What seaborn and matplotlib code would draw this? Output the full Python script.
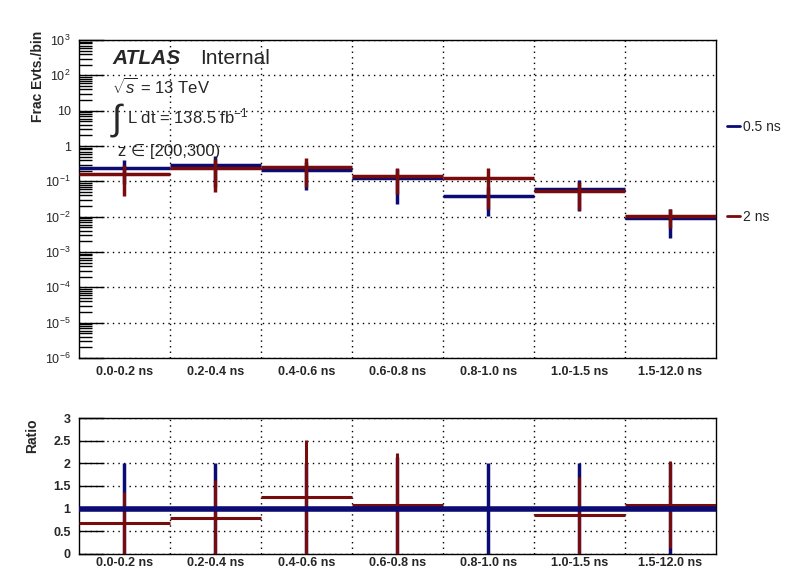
import numpy as np
import matplotlib
matplotlib.use("Agg")
import matplotlib.pyplot as plt
from matplotlib.lines import Line2D
from matplotlib.ticker import FixedLocator, LogLocator, FuncFormatter
import seaborn as sns

# Bin labels and values
bins = ["0.0-0.2 ns", "0.2-0.4 ns", "0.4-0.6 ns", "0.6-0.8 ns",
        "0.8-1.0 ns", "1.0-1.5 ns", "1.5-12.0 ns"]
frac_05 = [0.243, 0.296, 0.209, 0.124, 0.0392, 0.0618, 0.0093]
err_05 = [0.159, 0.225, 0.152, 0.101, 0.0286, 0.047, 0.0068]
frac_2 = [0.161, 0.243, 0.259, 0.139, 0.127, 0.0543, 0.01065]
err_2 = [0.122, 0.194, 0.19, 0.095, 0.11, 0.039, 0.006]

ratio_05 = [1, 1, 1, 1, 1, 1, 1]
ratio_err_05 = [1.0, 1.0, 1.0, 1.13, 1.0, 1.0, 1.0]
ratio_2 = [0.686, 0.80, 1.26, 1.07, np.nan, 0.855, 1.09]
ratio_err_2 = [0.69, 0.84, 1.26, 1.16, np.nan, 0.85, 0.96]

blue = "#0b0b73"
red = "#780b0b"

sns.set_style("white")
plt.rcParams['font.family'] = ['Liberation Sans', 'DejaVu Sans']
plt.rcParams['mathtext.fontset'] = 'custom'
plt.rcParams['mathtext.rm'] = 'Liberation Sans'
plt.rcParams['mathtext.it'] = 'Liberation Sans:italic'
plt.rcParams['mathtext.bf'] = 'Liberation Sans:bold'

fig = plt.figure(figsize=(7.96, 5.72), dpi=100)
ax = fig.add_axes([0.0992, 0.374, 0.8003, 0.556])
rax = fig.add_axes([0.0992, 0.0315, 0.8003, 0.2377])

x = np.arange(len(bins))
edges = np.arange(len(bins) + 1) - 0.5
dotted = dict(color='black', ls=(0, (1, 3)), lw=1)

# upper panel
ax.errorbar(x, frac_05, xerr=0.5, yerr=err_05, fmt='none', ecolor=blue,
            elinewidth=2.5, capsize=0, zorder=3)
ax.errorbar(x, frac_2, xerr=0.5, yerr=err_2, fmt='none', ecolor=red,
            elinewidth=2.5, capsize=0, zorder=4)
ax.set_yscale('log')
ax.set_ylim(1e-6, 1e3)
ax.set_xlim(-0.5, len(bins) - 0.5)


def log_label(v, pos):
    n = int(round(np.log10(v)))
    if n == 0:
        return "1"
    if n == 1:
        return "10"
    return r"$10^{%d}$" % n


ax.yaxis.set_major_locator(FixedLocator([10.0 ** k for k in range(-6, 4)]))
ax.yaxis.set_minor_locator(LogLocator(base=10, subs=np.arange(2, 10), numticks=20))
ax.yaxis.set_major_formatter(FuncFormatter(log_label))
ax.yaxis.set_minor_formatter(FuncFormatter(lambda v, p: ""))
ax.set_xticks(x)
ax.set_xticklabels(bins, fontweight='bold', fontsize=9)
ax.set_xticks(edges[1:-1], minor=True)
ax.tick_params(axis='x', which='both', length=0, pad=6)
ax.tick_params(axis='y', which='major', direction='in', length=18, width=1,
               labelsize=9, pad=6, left=True, right=False, color='black')
ax.tick_params(axis='y', which='minor', direction='in', length=9, width=1,
               left=True, right=False, color='black')
ax.grid(which='minor', axis='x', **dotted)
ax.grid(which='major', axis='y', **dotted)
ax.set_ylabel("Frac Evts./bin", fontweight='bold', fontsize=10, loc='top')
ax.yaxis.set_label_coords(-0.054, 1.03)
for s in ax.spines.values():
    s.set_color('black')
    s.set_linewidth(1)

ax.text(0.052, 0.925, "ATLAS", transform=ax.transAxes, fontsize=15,
        fontweight='bold', style='italic', va='baseline')
ax.text(0.19, 0.925, "Internal", transform=ax.transAxes, fontsize=15, va='baseline')
ax.text(0.052, 0.832, r"$\sqrt{s}$ = 13 TeV", transform=ax.transAxes,
        fontsize=12, va='baseline')
ax.text(0.048, 0.72, r"$\int$", transform=ax.transAxes, fontsize=26, va='baseline')
ax.text(0.075, 0.738, r"L dt = 138.5 fb$^{-1}$", transform=ax.transAxes,
        fontsize=12, va='baseline')
ax.text(0.061, 0.636, "z ∈ [200,300)", transform=ax.transAxes,
        fontsize=12, va='baseline')

# lower panel
rax.errorbar(x, ratio_05, yerr=ratio_err_05, fmt='none', ecolor=blue,
             elinewidth=2.5, capsize=0, zorder=3)
rax.errorbar(x, ratio_2, xerr=0.5, yerr=ratio_err_2, fmt='none', ecolor=red,
             elinewidth=2.2, capsize=0, zorder=4)
rax.hlines(ratio_05, x - 0.5, x + 0.5, color=blue, lw=4, zorder=5)
rax.set_ylim(0, 3)
rax.set_xlim(-0.5, len(bins) - 0.5)
rax.set_yticks(np.arange(0, 3.01, 0.5))
rax.set_yticklabels(["0", "0.5", "1", "1.5", "2", "2.5", "3"], fontweight='bold', fontsize=9)
rax.set_xticks(x)
rax.set_xticklabels(bins, fontweight='bold', fontsize=9)
rax.set_xticks(edges[1:-1], minor=True)
rax.tick_params(axis='x', which='both', length=0, pad=2)
rax.tick_params(axis='y', which='major', direction='in', length=18, width=1, pad=6,
                left=True, right=False, color='black')
rax.grid(which='minor', axis='x', **dotted)
rax.grid(which='major', axis='y', **dotted)
rax.set_ylabel("Ratio", fontweight='bold', fontsize=10, loc='top')
rax.yaxis.set_label_coords(-0.062, 1.0)
for s in rax.spines.values():
    s.set_color('black')
    s.set_linewidth(1)

handles = [Line2D([], [], color=blue, lw=2), Line2D([], [], color=red, lw=2)]
fig.legend(handles, ["0.5 ns", "2 ns"], loc='upper left',
           bbox_to_anchor=(0.913, 0.791), frameon=False, fontsize=10,
           handlelength=0.95, handletextpad=0.2, labelspacing=5.5, borderaxespad=0,
           borderpad=0)

fig.savefig("out.png", dpi=100)
